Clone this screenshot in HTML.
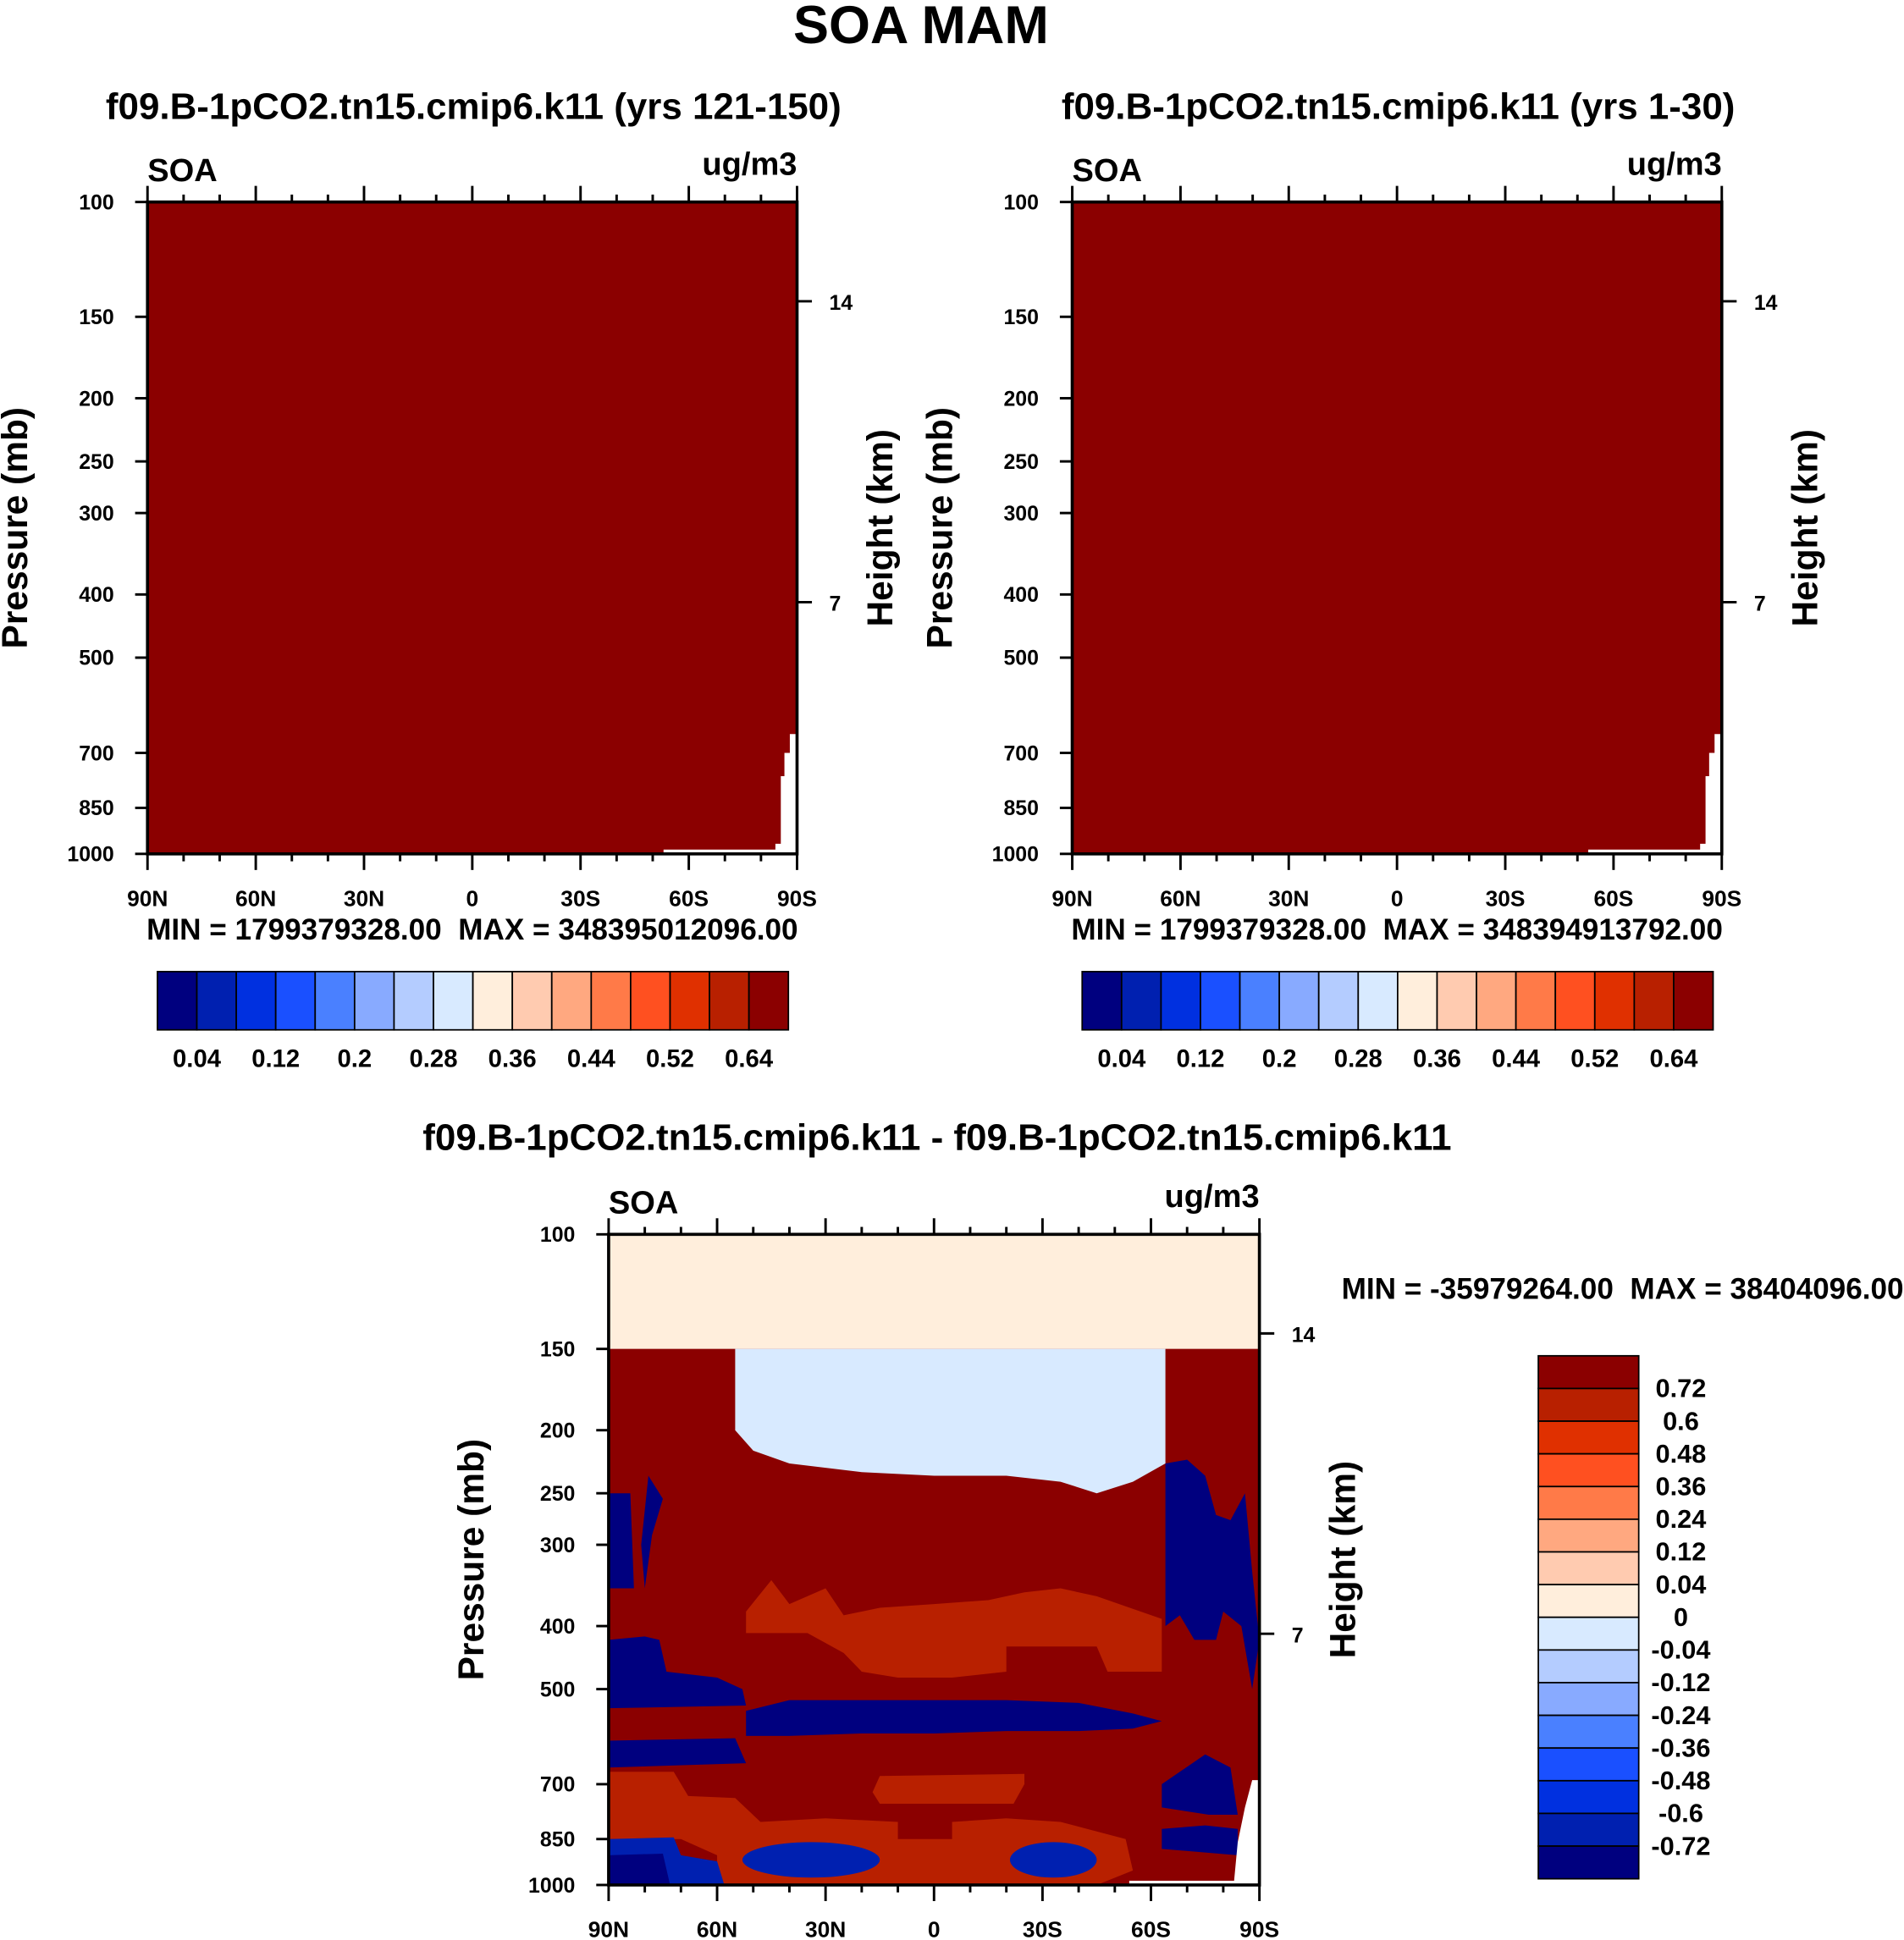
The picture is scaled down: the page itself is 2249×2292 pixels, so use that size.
<!DOCTYPE html>
<html><head><meta charset="utf-8"><style>
html,body{margin:0;padding:0;background:#fff;}
svg{display:block;font-family:"Liberation Sans",sans-serif;font-weight:bold;}
text{white-space:pre;}
</style></head><body>
<svg id="fig" width="2249" height="2292" viewBox="0 0 1536 1565.4" preserveAspectRatio="none" xmlns="http://www.w3.org/2000/svg">
<defs><clipPath id="dclip"><rect x="491" y="996" width="525" height="525"/></clipPath></defs>
<text x="743" y="35" font-size="43" text-anchor="middle">SOA MAM</text>
</svg>
<script>
const latTicks=[90,60,30,0,-30,-60,-90];
const latTickLabels=["90N","60N","30N","0","30S","60S","90S"];
const pTicks=[100,150,200,250,300,400,500,700,850,1000];
const hTicks=[14,7];
const hTickP=[142,411];
const cbColors=["#00007f","#0020b0","#0030e0","#1a50ff","#4a80ff","#88aaff","#b4ccff","#d8eaff","#ffeedc","#ffcbb0","#ffa880","#ff7a48","#ff5020","#e03000","#b82000","#8b0000"];
const cbTopLabels=["0.04","0.12","0.2","0.28","0.36","0.44","0.52","0.64"];
const cbDiffLabels=["0.72","0.6","0.48","0.36","0.24","0.12","0.04","0","-0.04","-0.12","-0.24","-0.36","-0.48","-0.6","-0.72"];
const whiteNotchTop=[[-88,655],[-88,700],[-86.5,700],[-86.5,760],[-85.5,760],[-85.5,965],[-84,965],[-84,985],[-53,985],[-53,1000],[-90,1000],[-90,655]];
const diffLightBlue=[[55,150],[-64,150],[-64,225],[-55,240],[-45,250],[-35,240],[-20,235],[0,235],[20,232],[40,225],[50,215],[55,200]];
const diffNavyLeft1=[[90,250],[84,250],[83,350],[90,350]];
const diffNavyLeft2=[[79,235],[75,255],[78,290],[80,350],[81,300]];
const diffNavyRight=[[-64,225],[-70,222],[-75,235],[-78,270],[-82,275],[-86,250],[-88,330],[-90,420],[-88,500],[-85,400],[-80,380],[-78,420],[-72,420],[-68,385],[-64,400]];
const diffOrangeMid=[[52,380],[45,340],[40,370],[30,350],[25,385],[15,375],[0,370],[-15,365],[-25,355],[-35,350],[-45,360],[-63,390],[-63,470],[-48,470],[-45,430],[-20,430],[-20,470],[-5,480],[10,480],[20,470],[25,440],[35,410],[52,410]];
const diffNavyA=[[90,420],[80,415],[76,420],[74,470],[60,480],[53,500],[52,530],[90,535]];
const diffNavyB=[[52,540],[40,520],[20,520],[0,520],[-20,520],[-40,525],[-55,545],[-63,560],[-55,575],[-40,580],[-20,580],[0,585],[20,585],[40,590],[52,590]];
const diffNavyC=[[90,600],[55,595],[52,650],[90,660]];
const diffOrangeLow=[[90,670],[72,670],[68,730],[55,735],[48,800],[30,790],[10,800],[10,850],[-5,850],[-5,800],[-20,790],[-35,800],[-53,850],[-55,950],[-45,1000],[60,1000],[60,900],[70,850],[90,850]];
const diffOrangeMid2=[[15,680],[-25,675],[-25,700],[-22,750],[15,750],[17,720]];
const diffBlueBL=[[90,850],[72,845],[70,900],[60,920],[58,1000],[90,1000]];
const diffNavyBL=[[90,900],[75,895],[73,1000],[90,1000]];
const diffBlueEll=[[34,915,19,860,975],[-33,915,12,860,975]];
const diffNavyR2=[[-63,700],[-75,630],[-82,660],[-84,780],[-76,780],[-63,760]];
const diffNavyR3=[[-63,820],[-75,810],[-84,820],[-84,900],[-63,880]];
const diffWhite=[[-90,690],[-90,1000],[-54,1000],[-54,985],[-83,985],[-84,860],[-86,760],[-88,690]];

const NS="http://www.w3.org/2000/svg";
const svg=document.getElementById('fig');
function mk(tag,attrs,parent){const e=document.createElementNS(NS,tag);for(const k in attrs)e.setAttribute(k,attrs[k]);(parent||svg).appendChild(e);return e;}
function txt(s,attrs,parent){const e=mk('text',attrs,parent);e.textContent=s;return e;}

function panel(name,x0,y0,w,h,title,titleX,titleY){
  const g=mk('g',{});
  
  
  const X=lat=>x0+(90-lat)/180*w;
  const Y=p=>y0+Math.log10(p/100)*h;
  const poly=(pts,fill,nm)=>{const e=mk('polygon',{points:pts.map(q=>X(q[0])+','+Y(q[1])).join(' '),fill:fill},g);
    
    return e;};
  const t=txt(title,{x:titleX,y:titleY,'font-size':30,'text-anchor':'middle'},g);
  
  
  const a=txt('SOA',{x:x0,y:y0-17,'font-size':26},g);
  
  
  const u=txt('ug/m3',{x:x0+w,y:y0-22,'font-size':26,'text-anchor':'end'},g);
  
  
  return {g,X,Y,poly,x0,y0,w,h};
}
function axes(P,hx,px){
  const {g,X,Y,x0,y0,w,h}=P;
  const fr=mk('rect',{x:x0,y:y0,width:w,height:h,fill:'none',stroke:'#000','stroke-width':2.5},g);
  
  
  for(let lat=90;lat>=-90;lat-=10){
    const major=lat%30===0;const L=major?13:6;
    mk('line',{x1:X(lat),x2:X(lat),y1:y0,y2:y0-L,stroke:'#000','stroke-width':2},g);
    mk('line',{x1:X(lat),x2:X(lat),y1:y0+h,y2:y0+h+L,stroke:'#000','stroke-width':2},g);
  }
  latTicks.forEach((lat,i)=>{const e=txt(latTickLabels[i],{x:X(lat),y:y0+h+42,'font-size':18,'text-anchor':'middle'},g);
    
    });
  pTicks.forEach(p=>{mk('line',{x1:x0,x2:x0-10,y1:Y(p),y2:Y(p),stroke:'#000','stroke-width':2},g);
    const e=txt(String(p),{x:x0-27,y:Y(p)+6,'font-size':17,'text-anchor':'end'},g);
    
    });
  hTicks.forEach((v,i)=>{const y=Y(hTickP[i]);mk('line',{x1:x0+w,x2:x0+w+12,y1:y,y2:y,stroke:'#000','stroke-width':2},g);
    const e=txt(String(v),{x:x0+w+26,y:y+7,'font-size':17},g);
    
    });
  const yc=y0+h/2;
  const pl=txt('Pressure (mb)',{x:0,y:0,'font-size':29,'text-anchor':'middle',transform:`translate(${px},${yc}) rotate(-90)`},g);
  
  
  const hl=txt('Height (km)',{x:0,y:0,'font-size':29,'text-anchor':'middle',transform:`translate(${hx},${yc}) rotate(-90)`},g);
  
  
}
function hbar(x0,y0,w,h,minmax,mx){
  const g=mk('g',{});
  
  
  const bw=w/cbColors.length;
  cbColors.forEach((c,i)=>{const r=mk('rect',{x:x0+i*bw,y:y0,width:bw,height:h,fill:c,stroke:'#000','stroke-width':1.2},g);
    
    });
  cbTopLabels.forEach((s,i)=>{const e=txt(s,{x:x0+(2*i+1)*bw,y:y0+h+30,'font-size':20,'text-anchor':'middle'},g);
    
    });
  const m=txt(minmax,{x:mx,y:y0-26,'font-size':24,'text-anchor':'middle'},g);
  
  
}

let P=panel('panel-yrs-121-150',119,163,524,526,'f09.B-1pCO2.tn15.cmip6.k11 (yrs 121-150)',382,96);
P.poly([[90,100],[-90,100],[-90,1000],[90,1000]],'#8b0000','field-fill');
P.poly(whiteNotchTop,'#fff','missing-area');
axes(P,720,22);
hbar(127,784,509,47,'MIN = 1799379328.00  MAX = 348395012096.00',381);

P=panel('panel-yrs-1-30',865,163,524,526,'f09.B-1pCO2.tn15.cmip6.k11 (yrs 1-30)',1128,96);
P.poly([[90,100],[-90,100],[-90,1000],[90,1000]],'#8b0000','field-fill');
P.poly(whiteNotchTop,'#fff','missing-area');
axes(P,1466,768);
hbar(873,784,509,47,'MIN = 1799379328.00  MAX = 348394913792.00',1127);

P=panel('panel-difference',491,996,525,525,'f09.B-1pCO2.tn15.cmip6.k11 - f09.B-1pCO2.tn15.cmip6.k11',756,928);
P.poly([[90,100],[-90,100],[-90,150],[90,150]],'#ffeedc','band-0-0.04');
P.poly([[90,150],[-90,150],[-90,1000],[90,1000]],'#8b0000','band-high');
P.poly(diffLightBlue,'#d8eaff','band-neg-small');
P.poly(diffNavyLeft1,'#00007f','band-low');
P.poly(diffNavyLeft2,'#00007f','band-low');
P.poly(diffNavyRight,'#00007f','band-low');
P.poly(diffOrangeMid,'#b82000','band-0.6');
P.poly(diffNavyA,'#00007f','band-low');
P.poly(diffNavyB,'#00007f','band-low');
P.poly(diffNavyC,'#00007f','band-low');
P.poly(diffOrangeLow,'#b82000','band-0.6');
P.poly(diffOrangeMid2,'#b82000','band-0.6');
P.poly(diffBlueBL,'#0020b0','band-neg-0.6');
P.poly(diffNavyBL,'#00007f','band-low');
P.poly(diffNavyR2,'#00007f','band-low');
P.poly(diffNavyR3,'#00007f','band-low');
diffBlueEll.forEach(e=>{const cx=P.X(e[0]),cy=P.Y(e[1]);
  const el=mk('ellipse',{cx:cx,cy:cy,rx:P.X(e[0]-e[2])-cx,ry:(P.Y(e[4])-P.Y(e[3]))/2,fill:'#0020b0','clip-path':'url(#dclip)'},P.g);
  
  });
P.poly(diffWhite,'#fff','missing-area');
axes(P,1093,390);
{
  const g=mk('g',{});
  
  
  const x0=1241,y0=1094,w=81,h=422,bh=h/16;
  cbColors.slice().reverse().forEach((c,i)=>{const r=mk('rect',{x:x0,y:y0+i*bh,width:w,height:bh,fill:c,stroke:'#000','stroke-width':1.2},g);
    
    });
  cbDiffLabels.forEach((s,i)=>{const e=txt(s,{x:1356,y:y0+(i+1)*bh+7,'font-size':21,'text-anchor':'middle'},g);
    
    });
  const m=txt('MIN = -35979264.00  MAX = 38404096.00',{x:1309,y:1048,'font-size':24,'text-anchor':'middle'},g);
  
  
}
</script>
</body></html>
